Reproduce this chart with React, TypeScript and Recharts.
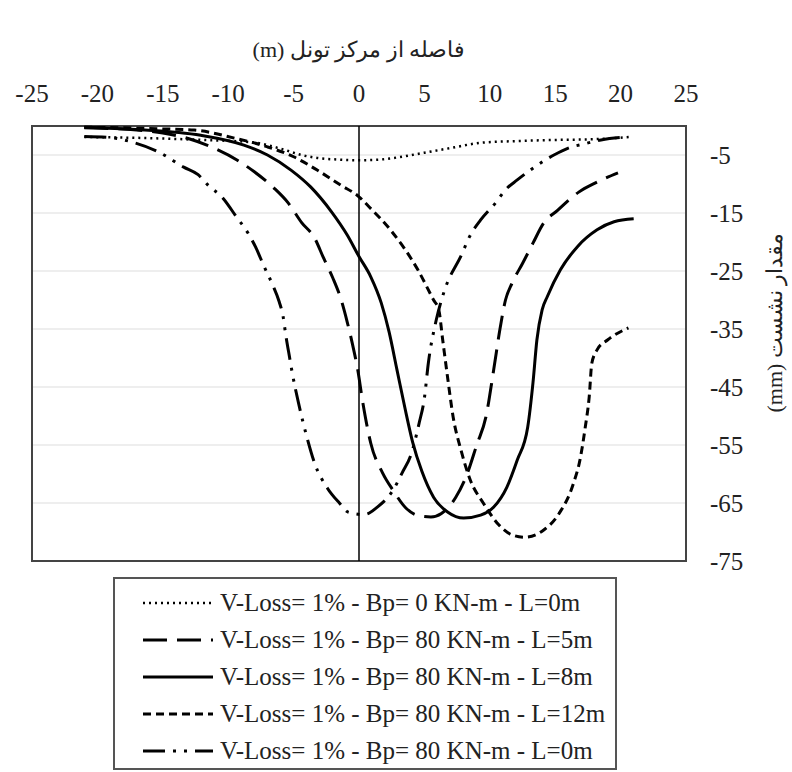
import React from 'react';
import {
  LineChart,
  Line,
  XAxis,
  YAxis,
  CartesianGrid,
  ReferenceLine,
  ReferenceArea,
  Legend,
} from 'recharts';

const FONT = '"Liberation Serif", "DejaVu Serif", serif';

const xTicks = [-25, -20, -15, -10, -5, 0, 5, 10, 15, 20, 25];
const yTicks = [-5, -15, -25, -35, -45, -55, -65, -75];

const xTitle = 'فاصله از مرکز تونل (m)';
const yTitle = 'مقدار نشست (mm)';

const seriesNames = [
  'V-Loss= 1% - Bp= 0 KN-m - L=0m',
  'V-Loss= 1% - Bp= 80 KN-m - L=5m',
  'V-Loss= 1% - Bp= 80 KN-m - L=8m',
  'V-Loss= 1% - Bp= 80 KN-m - L=12m',
  'V-Loss= 1% - Bp= 80 KN-m - L=0m',
];

// Bp = 0, L = 0 (dotted)
const x1 = [-21, -15.9, -12, -8.2, -5.7, -4.4, -3.2, -1.5, 0, 1.5, 3, 5, 7, 9.3, 12, 15, 17.7, 20.7];
const y1 = [-1.9, -2.1, -2.4, -2.8, -4.1, -5.0, -5.5, -5.8, -5.9, -5.8, -5.4, -4.6, -3.8, -2.9, -2.6, -2.4, -2.3, -1.9];

// Bp = 80, L = 5 (long dash)
const x2 = [-21, -17, -15, -13, -11.1, -9.3, -8, -6.5, -5.4, -4.4, -3.4, -2.7, -2, -1.4, -0.9, -0.5, -0.1, 0.3, 0.9, 1.8, 2.6, 3.6, 4.6, 5.5, 6.3, 7.4, 8.3, 9.0, 9.7, 10.3, 10.8, 11.2, 11.7, 12.5, 13.3, 14.1, 15.2, 16.8, 18, 19.8];
const y2 = [-0.3, -0.7, -1.2, -2.2, -3.8, -5.9, -7.9, -10.7, -13.3, -16.6, -19.3, -22.8, -26.2, -29.7, -33.8, -37.6, -42, -47.8, -54.7, -59.8, -62.8, -65.9, -67.2, -67.4, -66.8, -64, -59.8, -55, -50.2, -42, -34.7, -30, -27.1, -23.7, -20.2, -16.8, -14.5, -11.4, -9.9, -8.1];

// Bp = 80, L = 8 (solid)
const x3 = [-21, -17, -12.1, -8.8, -7, -5.2, -3.7, -2.1, -0.9, 0, 0.9, 1.7, 2.3, 2.9, 3.5, 4.1, 4.8, 5.7, 6.8, 8.0, 9.3, 10.3, 11.3, 12.1, 12.9, 13.3, 13.6, 14.0, 14.4, 15.4, 16.7, 18.2, 19.5, 21];
const y3 = [-0.2, -0.6, -1.6, -3.3, -5.0, -7.6, -10.5, -14.8, -18.8, -22.5, -26, -30.5, -35.5, -42, -48.5, -54.5, -59.5, -64, -66.6, -67.6, -67.1, -65.7, -62.3, -57.6, -51.9, -44.3, -36.9, -31.7, -29.4, -24.8, -20.8, -17.9, -16.5, -16];

// Bp = 80, L = 12 (short dash)
const x4 = [-21, -15, -12.6, -9.5, -7, -5, -3.2, -1.4, 0, 0.8, 2.4, 4.5, 5.7, 6.1, 6.4, 6.8, 7.2, 7.8, 8.5, 9.5, 10.7, 11.7, 12.7, 14.1, 15.3, 16.4, 16.9, 17.3, 17.6, 17.8, 18.2, 19, 20.6];
const y4 = [-0.2, -0.5, -0.7, -2.1, -3.6, -5.3, -7.6, -10.2, -12.2, -14, -17.9, -24.8, -30, -31.7, -36.9, -43.8, -50.2, -55.9, -61, -65, -68.8, -70.5, -70.9, -69.7, -66.8, -61.6, -57.5, -51.9, -46.7, -40.9, -38.6, -36.9, -34.8];

// Bp = 80, L = 0 (dash-dot-dot)
const x5 = [-21, -19, -17.3, -15.3, -13.4, -12.3, -11.5, -10.5, -9.3, -8.5, -7.9, -7.3, -6.6, -6.1, -5.8, -5.6, -5.3, -5.1, -4.6, -4.0, -3.4, -2.4, -1.5, -0.8, 0.4, 1.4, 2.6, 3.3, 4.0, 4.6, 5.0, 5.3, 5.9, 6.5, 7.9, 8.4, 9.3, 10.5, 11.2, 12.1, 13.1, 14.9, 16, 17.2, 18.5, 20.5];
const y5 = [-1.8, -2.0, -2.8, -4.5, -7.1, -8.4, -10.3, -12.2, -15.9, -18.4, -20.9, -24, -27.4, -30.3, -32.9, -36, -40, -42.6, -48, -53.5, -58.1, -62.5, -65, -66.6, -67, -65.7, -62.8, -59.8, -56.5, -51.2, -46.9, -40.9, -33.5, -28.6, -21.9, -19.3, -16.2, -13.1, -11, -9.3, -7.6, -5, -3.8, -3.1, -2.4, -1.9];

const toPoints = (xs: number[], ys: number[]) => xs.map((x, i) => ({ x, y: ys[i] }));

const series = [
  { name: seriesNames[0], data: toPoints(x1, y1), dash: '2 4', width: 2.5 },
  { name: seriesNames[1], data: toPoints(x2, y2), dash: '24 10', width: 3 },
  { name: seriesNames[2], data: toPoints(x3, y3), dash: undefined as string | undefined, width: 3 },
  { name: seriesNames[3], data: toPoints(x4, y4), dash: '8 5', width: 3 },
  { name: seriesNames[4], data: toPoints(x5, y5), dash: '22 8 3 8 3 8', width: 3 },
];

const LegendBox = () => (
  <div
    style={{
      width: 504,
      height: 193,
      boxSizing: 'border-box',
      border: '2px solid #555',
      background: '#fff',
      paddingTop: 5.5,
      fontFamily: FONT,
      fontSize: 25,
      color: '#222',
    }}
  >
    {series.map((s) => (
      <div key={s.name} style={{ display: 'flex', alignItems: 'center', height: 37, whiteSpace: 'nowrap' }}>
        <svg width={105} height={20} style={{ flex: 'none' }}>
          <line x1={28} x2={98} y1={10} y2={10} stroke="#000" strokeWidth={s.width} strokeDasharray={s.dash} />
        </svg>
        <span>{s.name}</span>
      </div>
    ))}
  </div>
);

const XTitle = (props: any) => {
  const vb = props.viewBox || {};
  const cx = vb.x + vb.width / 2;
  return (
    <text
      x={cx}
      y={vb.y + 31}
      textAnchor="middle"
      fill="#222"
      fontSize={22}
      fontFamily={FONT}
      style={{ direction: 'rtl' }}
    >
      {xTitle}
    </text>
  );
};

const YTitle = (props: any) => {
  const vb = props.viewBox || {};
  const cx = vb.x + 88;
  const cy = vb.y + vb.height / 2 - 21;
  return (
    <text
      x={cx}
      y={cy}
      transform={`rotate(-90, ${cx}, ${cy})`}
      textAnchor="middle"
      dominantBaseline="central"
      fill="#222"
      fontSize={22}
      fontFamily={FONT}
      style={{ direction: 'rtl' }}
    >
      {yTitle}
    </text>
  );
};

export default function App() {
  return (
    <div style={{ position: 'absolute', left: 0, top: 0, width: 792, height: 772, background: '#fff' }}>
      <LineChart width={792} height={772} margin={{ top: 26, right: 0, left: 32, bottom: 211 }}>
        <CartesianGrid vertical={false} stroke="#e8e8e8" strokeWidth={1.5} />
        <XAxis
          dataKey="x"
          type="number"
          orientation="top"
          domain={[-25, 25]}
          ticks={xTicks}
          height={100}
          axisLine={false}
          tickLine={false}
          tickSize={0}
          tickMargin={24}
          interval={0}
          tick={{ fill: '#222', fontSize: 25, fontFamily: FONT }}
          label={<XTitle />}
        />
        <YAxis
          dataKey="y"
          type="number"
          orientation="right"
          domain={[-75, 0]}
          ticks={yTicks}
          width={106}
          axisLine={false}
          tickLine={false}
          tickSize={0}
          tickMargin={24}
          interval={0}
          tick={{ fill: '#222', fontSize: 25, fontFamily: FONT }}
          label={<YTitle />}
        />
        <ReferenceArea x1={-25} x2={25} y1={-75} y2={0} fill="none" stroke="#444" strokeWidth={2} />
        <ReferenceLine x={0} stroke="#000" strokeWidth={1.5} />
        {series.map((s) => (
          <Line
            key={s.name}
            data={s.data}
            dataKey="y"
            name={s.name}
            type="monotone"
            stroke="#000"
            strokeWidth={s.width}
            strokeDasharray={s.dash}
            dot={false}
            activeDot={false}
            isAnimationActive={false}
          />
        ))}
        <Legend
          layout="vertical"
          align="center"
          verticalAlign="middle"
          wrapperStyle={{ left: 113, top: 577, width: 504, height: 193 }}
          content={() => <LegendBox />}
        />
      </LineChart>
    </div>
  );
}
